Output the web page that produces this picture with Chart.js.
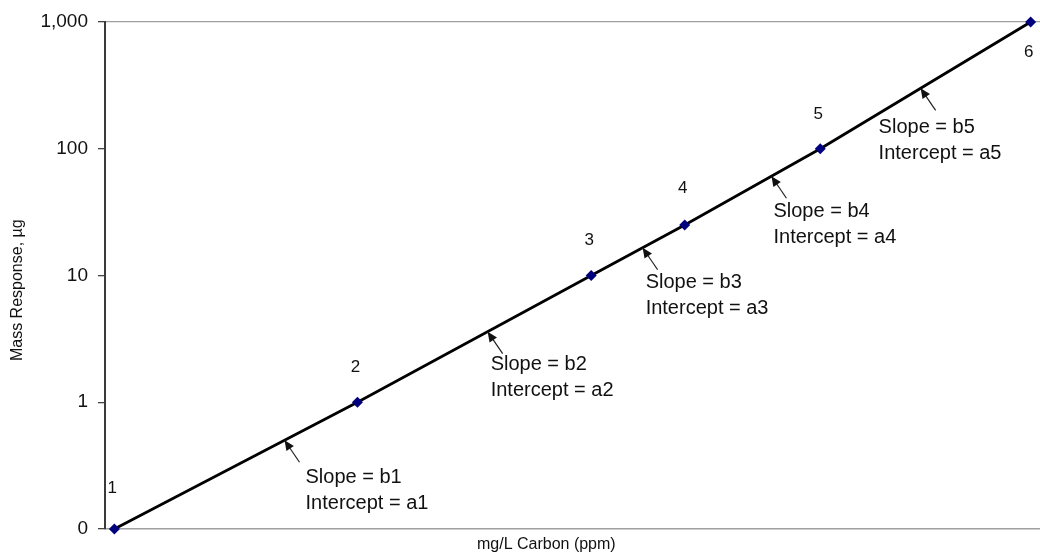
<!DOCTYPE html>
<html>
<head>
<meta charset="utf-8">
<script src="https://cdn.jsdelivr.net/npm/chart.js@4.4.1/dist/chart.umd.min.js"></script>
<style>
  html, body { margin: 0; padding: 0; background: #fff; }
  #wrap { width: 1040px; height: 557px; position: relative; }
</style>
</head>
<body>
<div id="wrap"><canvas id="chart-calibration"></canvas></div>
<script>
// -------------------- data --------------------
const standardIds = ['1', '2', '3', '4', '5', '6'];
const carbonConc = [1, 27, 52, 62, 76.5, 99];          // mg/L (axis unlabelled)
const massResponse = [0.1, 1, 10, 25, 100, 1000];      // µg
const yTickValues = [0.1, 1, 10, 100, 1000];
const yTickLabels = ['0', '1', '10', '100', '1,000'];
const slopeLabels = ['Slope = b1', 'Slope = b2', 'Slope = b3', 'Slope = b4', 'Slope = b5'];
const interceptLabels = ['Intercept = a1', 'Intercept = a2', 'Intercept = a3', 'Intercept = a4', 'Intercept = a5'];
const xTitle = 'mg/L Carbon (ppm)';
const yTitle = 'Mass Response, µg';

// -------------------- layout --------------------
// callout i points at segment i (between point i and i+1); t = fraction along it,
// dx/dy = offset of the text block from the arrow tip in px
const calloutLayout = [
  { t: 0.70, dx: 21, dy: 37 },
  { t: 0.557, dx: 3, dy: 33 },
  { t: 0.55, dx: 3, dy: 35 },
  { t: 0.64, dx: 2, dy: 35 },
  { t: 0.477, dx: -42, dy: 39 },
];
const idOffsets = [-41, -35, -35, -37, -34, 30];
const FONT = '"Liberation Sans", Arial, sans-serif';

const annotations = {
  id: 'annotations',
  afterDatasetsDraw(chart) {
    const ctx = chart.ctx;
    const pts = chart.getDatasetMeta(0).data;
    const area = chart.chartArea;
    ctx.save();
    ctx.fillStyle = '#111';

    // point numbers
    ctx.font = '17px ' + FONT;
    ctx.textAlign = 'center';
    ctx.textBaseline = 'middle';
    pts.forEach((p, i) => ctx.fillText(standardIds[i], p.x - 2, p.y + idOffsets[i]));

    // slope / intercept callouts
    calloutLayout.forEach((c, i) => {
      const a = pts[i], b = pts[i + 1];
      const tx = a.x + (b.x - a.x) * c.t, ty = a.y + (b.y - a.y) * c.t;
      const sx = tx + 15, sy = ty + 22;
      ctx.strokeStyle = '#222';
      ctx.lineWidth = 1.2;
      ctx.beginPath(); ctx.moveTo(sx, sy); ctx.lineTo(tx, ty); ctx.stroke();
      const ang = Math.atan2(ty - sy, tx - sx);
      const hl = 10, hw = 4.5;
      ctx.beginPath();
      ctx.moveTo(tx, ty);
      ctx.lineTo(tx - hl * Math.cos(ang) + hw * Math.sin(ang), ty - hl * Math.sin(ang) - hw * Math.cos(ang));
      ctx.lineTo(tx - hl * Math.cos(ang) - hw * Math.sin(ang), ty - hl * Math.sin(ang) + hw * Math.cos(ang));
      ctx.closePath();
      ctx.fill();

      ctx.font = '20px ' + FONT;
      ctx.textAlign = 'left';
      ctx.fillText(slopeLabels[i], tx + c.dx, ty + c.dy);
      ctx.fillText(interceptLabels[i], tx + c.dx, ty + c.dy + 26);
    });

    // axis titles
    ctx.font = '16px ' + FONT;
    ctx.textAlign = 'center';
    ctx.fillText(xTitle, area.left + (area.right - area.left) * 0.472, area.bottom + 16);
    ctx.translate(18, area.top + (area.bottom - area.top) * 0.529);
    ctx.rotate(-Math.PI / 2);
    ctx.fillText(yTitle, 0, 0);
    ctx.restore();
  },
};

new Chart(document.getElementById('chart-calibration'), {
  type: 'line',
  data: {
    datasets: [{
      label: 'Calibration',
      data: carbonConc.map((x, i) => ({ x, y: massResponse[i] })),
      borderColor: '#000', borderWidth: 2.8, tension: 0,
      pointStyle: 'rectRot', pointRadius: 5.5, pointBorderWidth: 0,
      pointBackgroundColor: '#00007f', pointBorderColor: '#00007f',
      clip: false,
    }],
  },
  options: {
    responsive: true, maintainAspectRatio: false, animation: false,
    devicePixelRatio: 1,
    layout: { autoPadding: false, padding: { top: 22, right: 0, left: 0, bottom: 0 } },
    plugins: { legend: { display: false }, tooltip: { enabled: false } },
    scales: {
      x: {
        type: 'linear', min: 0, max: 100,
        ticks: { display: false },
        grid: { display: false },
        border: { display: true, color: '#a0a0a0', width: 1.5 },
        afterFit: s => { s.height = 28; },
      },
      y: {
        type: 'logarithmic', min: 0.1, max: 1000,
        afterBuildTicks: s => { s.ticks = yTickValues.map(v => ({ value: v })); },
        ticks: {
          color: '#111', padding: 10, font: { family: FONT, size: 19 },
          callback: (v, i) => yTickLabels[i],
        },
        grid: {
          drawTicks: true, tickLength: 7, tickColor: '#444', lineWidth: 1.3,
          color: c => (c.tick && c.tick.value === 1000 ? '#a0a0a0' : 'rgba(0,0,0,0)'),
        },
        border: { color: '#3a3a3a', width: 2 },
        afterFit: s => { s.width = 105; },
      },
    },
  },
  plugins: [annotations],
});
</script>
</body>
</html>
